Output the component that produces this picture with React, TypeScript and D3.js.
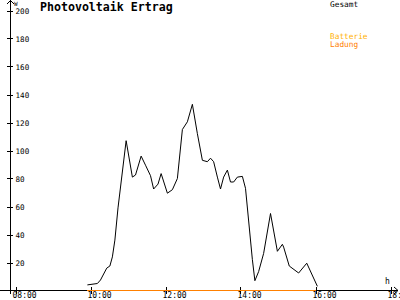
import React from "react";
import * as d3 from "d3";

const title = "Photovoltaik Ertrag";
const yTicks = [20, 40, 60, 80, 100, 120, 140, 160, 180, 200];
const xTickLabels = ["08:00", "10:00", "12:00", "14:00", "16:00", "18:00"];

const gesamtTimes = [
  "09:55", "10:11", "10:16", "10:26", "10:31", "10:35", "10:39", "10:44", "10:57", "11:07",
  "11:12", "11:21", "11:28", "11:36", "11:41", "11:48", "11:53", "12:03", "12:11", "12:19",
  "12:27", "12:35", "12:43", "12:51", "12:59", "13:07", "13:12", "13:17", "13:23", "13:28",
  "13:33", "13:39", "13:44", "13:49", "13:55", "14:03", "14:08", "14:19", "14:23", "14:29",
  "14:37", "14:48", "14:59", "15:07", "15:09", "15:18", "15:33", "15:46", "16:03",
];
const gesamtValues = [
  4, 5, 7.5, 16, 17.5, 24, 36, 59, 107, 81,
  82.5, 96, 89.5, 82, 72.5, 76, 83.5, 69.5, 72, 80,
  115, 120.5, 133, 112, 93, 92, 94.5, 92, 81, 72.5,
  81, 86, 77.5, 77.5, 81, 81.5, 73, 22, 7, 13.5,
  26.5, 55, 28, 33, 31, 17.5, 12.5, 19.5, 3,
];
const ladungTimes = ["09:55", "16:00"];
const ladungValues = [0, 0];

const toMin = (s: string) => {
  const [h, m] = s.split(":").map(Number);
  return h * 60 + m;
};

export default function App() {
  const W = 400, H = 300;
  const x = d3.scaleLinear().domain([480, 1080]).range([15.5, 390.5]);
  const y = d3.scaleLinear().domain([0, 200]).range([290.5, 10.5]);
  const mono = "'DejaVu Sans Mono', monospace";

  const line = d3.line<[number, number]>().x(d => x(d[0])).y(d => y(d[1]));
  const gesamt = gesamtTimes.map((t, i) => [toMin(t), gesamtValues[i]] as [number, number]);
  const ladung = ladungTimes.map((t, i) => [toMin(t), ladungValues[i]] as [number, number]);

  return (
    <svg width={W} height={H} style={{ position: "absolute", left: 0, top: 0, background: "#fff" }}>
      <rect x={0} y={0} width={W} height={H} fill="#fff" />
      {/* axes */}
      <g stroke="#000" strokeWidth={1} shapeRendering="crispEdges">
        <line x1={10.5} y1={0} x2={10.5} y2={294} />
        <line x1={0} y1={290.5} x2={398} y2={290.5} />
        {yTicks.map(v => (
          <line key={v} x1={7} x2={13} y1={Math.round(y(v)) + 0.5} y2={Math.round(y(v)) + 0.5} />
        ))}
        {xTickLabels.map((_, i) => {
          const xx = Math.round(x(480 + i * 120)) + 0.5;
          return <line key={i} x1={xx} x2={xx} y1={287} y2={294} />;
        })}
      </g>
      <g stroke="#000" strokeWidth={1} fill="none">
        <polyline points="7,4 10.5,0.5 14,4" />
        <polyline points="394,287 398,290.5 394,294" />
      </g>
      {/* y tick labels */}
      <g fontFamily={mono} fontSize={7.6} fill="#000">
        {yTicks.map(v => (
          <text key={v} x={15.5} y={y(v) + 3}>{v}</text>
        ))}
        <text x={14} y={5.5} fontSize={6}>W</text>
      </g>
      {/* x tick labels */}
      <g fontFamily={mono} fontSize={8} fill="#000">
        {xTickLabels.map((l, i) => (
          <text key={l} x={x(480 + i * 120) - 3} y={298}>{l}</text>
        ))}
        <text x={385} y={284}>h</text>
      </g>
      {/* title */}
      <text x={40} y={11} fontFamily={mono} fontWeight="bold" fontSize={11.6} fill="#000">{title}</text>
      {/* legend */}
      <g fontFamily={mono} fontSize={7.8}>
        <text x={330} y={7} fill="#000">Gesamt</text>
        <text x={330} y={39} fill="#ffb000">Batterie</text>
        <text x={330} y={46.5} fill="#ff8000">Ladung</text>
      </g>
      {/* series */}
      <path d={line(gesamt) || ""} fill="none" stroke="#000" strokeWidth={1} />
      <path d={line(ladung) || ""} fill="none" stroke="#ff8000" strokeWidth={1.5} shapeRendering="crispEdges" />
    </svg>
  );
}
